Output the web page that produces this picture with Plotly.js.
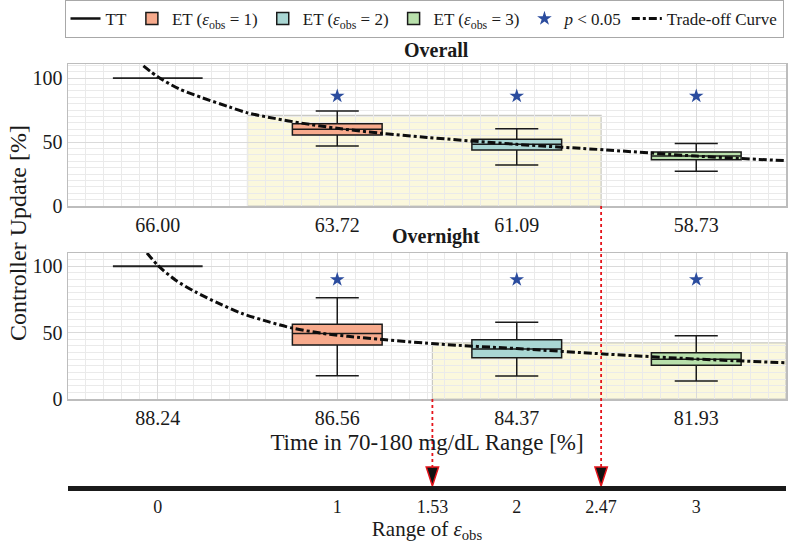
<!DOCTYPE html>
<html><head><meta charset="utf-8">
<script src="https://cdn.plot.ly/plotly-3.0.1.min.js"></script>
<style>html,body{margin:0;padding:0;background:#fff}#chart{width:788px;height:544px}</style>
</head><body><div id="chart"></div>
<script>
// ---------------- data ----------------
const catPos = [0, 1, 2, 3];
const groupNames = ['TT', 'ET (<i>ε</i><sub>obs</sub> = 1)', 'ET (<i>ε</i><sub>obs</sub> = 2)', 'ET (<i>ε</i><sub>obs</sub> = 3)'];
const overallTIR = ['66.00', '63.72', '61.09', '58.73'];
const overnightTIR = ['88.24', '86.56', '84.37', '81.93'];

// Overall box statistics [TT, ET1, ET2, ET3]
const overallLow  = [100, 46.9, 32.0, 27.2];
const overallQ1   = [100, 55.5, 43.7, 36.1];
const overallMed  = [100, 60.0, 48.2, 39.0];
const overallQ3   = [100, 64.3, 52.1, 42.2];
const overallHigh = [100, 74.2, 60.4, 48.9];
const overallStar = [85.9, 85.9, 85.9];

// Overnight box statistics [TT, ET1, ET2, ET3]
const overnightLow  = [100, 17.5, 17.3, 13.5];
const overnightQ1   = [100, 40.6, 31.1, 25.5];
const overnightMed  = [100, 49.4, 37.6, 30.0];
const overnightQ3   = [100, 56.4, 44.6, 34.8];
const overnightHigh = [100, 76.2, 57.9, 47.6];
const overnightStar = [90, 90, 90];

// Trade-off curves
const curveOverallX = [-0.08, 0, 0.12, 0.25, 0.4, 0.5, 0.65, 0.8, 1.0, 1.25, 1.5, 2.0, 2.5, 3.0, 3.5];
const curveOverallY = [109.5, 101, 91.5, 84.5, 77.4, 72.8, 68.5, 64.8, 60.7, 56.8, 53.6, 48.2, 43.8, 39.0, 35.4];
const curveOvernightX = [-0.06, 0, 0.1, 0.21, 0.34, 0.47, 0.62, 0.75, 0.91, 1.06, 1.56, 2.0, 2.5, 3.0, 3.5];
const curveOvernightY = [110, 100.7, 89.5, 80.7, 72.0, 64.4, 58.1, 53.4, 49.6, 47.2, 41.4, 38.0, 33.8, 30.1, 27.3];

// Highlighted trade-off regions
const regionOverall = {x0: 0.5, x1: 2.47, top: 70.8};
const regionOvernight = {x0: 1.53, x1: 3.5, top: 42.3};

// Range of eps_obs axis
const epsTicks = [0, 1, 1.53, 2, 2.47, 3];
const epsCuts = [1.53, 2.47];

// ---------------- styles ----------------
const serif = 'Liberation Serif, Times New Roman, serif';
const fills = ['rgba(0,0,0,0)', '#F7AA8C', '#A9D6D3', '#B8E0AB'];
const starColor = '#2B4C9E';
const W = 788, H = 544;
const py = p => 1 - p / H;
const xDom = [68 / W, 786 / W];

const traces = [];
traces.push({type: 'scatter', x: [null], y: [null], mode: 'lines', name: 'TT',
  line: {color: '#111', width: 2.5}, xaxis: 'x', yaxis: 'y', hoverinfo: 'skip'});

function addBoxes(xa, ya, low, q1, med, q3, high, showLeg) {
  for (let i = 0; i < catPos.length; i++) {
    traces.push({
      type: 'box', xaxis: xa, yaxis: ya, name: groupNames[i],
      x: [catPos[i]], lowerfence: [low[i]], q1: [q1[i]], median: [med[i]], q3: [q3[i]], upperfence: [high[i]],
      width: 0.5, whiskerwidth: 0.48, boxpoints: false,
      fillcolor: fills[i], line: {color: i === 0 ? '#222' : '#1a1a1a', width: i === 0 ? 1.8 : 1.5},
      showlegend: showLeg && i > 0
    });
  }
}
addBoxes('x', 'y', overallLow, overallQ1, overallMed, overallQ3, overallHigh, true);
addBoxes('x2', 'y2', overnightLow, overnightQ1, overnightMed, overnightQ3, overnightHigh, false);

traces.push({type: 'scatter', mode: 'markers', x: catPos.slice(1), y: overallStar, xaxis: 'x', yaxis: 'y',
  name: '<i>p</i> &lt; 0.05', marker: {symbol: 'star', size: 11, color: starColor}});
traces.push({type: 'scatter', mode: 'markers', x: catPos.slice(1), y: overnightStar, xaxis: 'x2', yaxis: 'y2',
  name: '<i>p</i> &lt; 0.05', showlegend: false, marker: {symbol: 'star', size: 11, color: starColor}});

const curveLine = {color: '#0d0d0d', width: 3, dash: '8px,3px,3px,3px', shape: 'spline', smoothing: 0.8};
traces.push({type: 'scatter', mode: 'lines', x: curveOverallX, y: curveOverallY, xaxis: 'x', yaxis: 'y',
  name: 'Trade-off Curve', line: curveLine});
traces.push({type: 'scatter', mode: 'lines', x: curveOvernightX, y: curveOvernightY, xaxis: 'x2', yaxis: 'y2',
  name: 'Trade-off Curve', showlegend: false, line: curveLine});

traces.push({type: 'scatter', mode: 'markers', x: epsCuts, y: epsCuts.map(() => 0), xaxis: 'x3', yaxis: 'y3',
  showlegend: false, cliponaxis: false, hoverinfo: 'skip',
  marker: {symbol: 'arrow', angle: 180, size: 20, color: '#111', line: {color: '#E5141B', width: 1.5}}});

function catAxis(anchor, ticktext) {
  return {domain: xDom, anchor: anchor, range: [-0.5, 3.5], tickmode: 'array', tickvals: catPos, ticktext: ticktext,
    showgrid: true, gridcolor: '#DADADA', gridwidth: 1,
    minor: {tickmode: 'linear', tick0: 0, dtick: 0.1, showgrid: true, gridcolor: '#EAEAEA', gridwidth: 1},
    showline: true, mirror: true, linecolor: '#BDBDBD', linewidth: 1.5, zeroline: false, ticks: '',
    tickfont: {size: 20, family: serif, color: '#1a1a1a'}, automargin: false, fixedrange: true};
}
function valAxis(anchor, dom, top) {
  return {domain: dom, anchor: anchor, range: [0, top], tickmode: 'array', tickvals: [0, 50, 100],
    showgrid: true, gridcolor: '#DADADA', gridwidth: 1,
    minor: {tickmode: 'linear', tick0: 0, dtick: 5, showgrid: true, gridcolor: '#EAEAEA', gridwidth: 1},
    showline: true, mirror: true, linecolor: '#BDBDBD', linewidth: 1.5, zeroline: false, ticks: '',
    tickfont: {size: 20, family: serif, color: '#1a1a1a'}, automargin: false, fixedrange: true};
}

const xa2 = catAxis('y2', overnightTIR);
xa2.title = {text: 'Time in 70-180 mg/dL Range [%]', font: {size: 23, family: serif, color: '#1a1a1a'}, standoff: 6};

const layout = {
  width: W, height: H, margin: {l: 0, r: 0, t: 0, b: 0},
  paper_bgcolor: '#fff', plot_bgcolor: '#fff',
  font: {family: serif, color: '#1a1a1a', size: 20},
  showlegend: true,
  legend: {orientation: 'h', x: 424 / W, xanchor: 'center', y: 1, yanchor: 'top',
    font: {size: 17, family: serif, color: '#1a1a1a'}, bordercolor: '#A8A8A8', borderwidth: 1, bgcolor: '#fff',
    itemwidth: 30, tracegroupgap: 0},
  xaxis: catAxis('y', overallTIR),
  yaxis: valAxis('x', [py(206), py(64)], 111),
  xaxis2: xa2,
  yaxis2: valAxis('x2', [py(399), py(253)], 110),
  xaxis3: {domain: xDom, anchor: 'y3', range: [-0.5, 3.5], tickmode: 'array', tickvals: epsTicks,
    ticktext: epsTicks.map(String), showline: true, linewidth: 5, linecolor: '#1a1a1a', showgrid: false,
    zeroline: false, ticks: '', tickfont: {size: 18, family: serif, color: '#1a1a1a'}, automargin: false, fixedrange: true,
    title: {text: 'Range of <i>ε</i><sub>obs</sub>', font: {size: 21, family: serif, color: '#1a1a1a'}, standoff: 4}},
  yaxis3: {domain: [py(486), py(458)], anchor: 'x3', range: [0, 1], visible: false, fixedrange: true},
  shapes: [
    {type: 'rect', xref: 'x', yref: 'y', x0: regionOverall.x0, x1: regionOverall.x1, y0: 0, y1: regionOverall.top,
      fillcolor: '#FBF8DD', line: {color: '#C9C9C4', width: 1.2}, layer: 'below'},
    {type: 'rect', xref: 'x2', yref: 'y2', x0: regionOvernight.x0, x1: regionOvernight.x1, y0: 0, y1: regionOvernight.top,
      fillcolor: '#FBF8DD', line: {color: '#C9C9C4', width: 1.2}, layer: 'below'},
    {type: 'line', xref: 'x3', yref: 'paper', x0: epsCuts[1], x1: epsCuts[1], y0: py(206), y1: py(468),
      line: {color: '#E5141B', width: 1.8, dash: 'dot'}, layer: 'above'},
    {type: 'line', xref: 'x3', yref: 'paper', x0: epsCuts[0], x1: epsCuts[0], y0: py(399), y1: py(468),
      line: {color: '#E5141B', width: 1.8, dash: 'dot'}, layer: 'above'}
  ],
  annotations: [
    {text: '<b>Overall</b>', xref: 'paper', yref: 'paper', x: 436 / W, y: py(50), xanchor: 'center', yanchor: 'middle',
      showarrow: false, font: {size: 20, family: serif, color: '#1a1a1a'}},
    {text: '<b>Overnight</b>', xref: 'paper', yref: 'paper', x: 436 / W, y: py(236), xanchor: 'center', yanchor: 'middle',
      showarrow: false, font: {size: 20, family: serif, color: '#1a1a1a'}},
    {text: 'Controller Update [%]', xref: 'paper', yref: 'paper', x: 18 / W, y: py(233), xanchor: 'center', yanchor: 'middle',
      showarrow: false, textangle: -90, font: {size: 24, family: serif, color: '#1a1a1a'}}
  ]
};

Plotly.newPlot('chart', traces, layout, {displayModeBar: false, staticPlot: true});
</script>
</body></html>
